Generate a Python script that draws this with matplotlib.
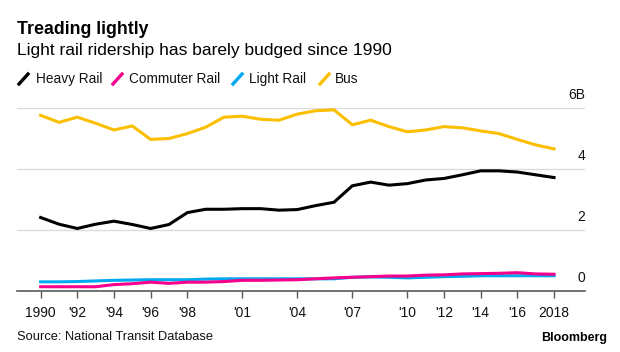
"""
Treading lightly - US transit ridership by mode, 1990-2018.
"""

import matplotlib
matplotlib.use("Agg")
import matplotlib.pyplot as plt
import matplotlib.transforms as mtransforms
from matplotlib.lines import Line2D

plt.rcParams['font.family'] = ['Liberation Sans', 'DejaVu Sans']

# Data (billions of unlinked trips)
years = list(range(1990, 2019))

heavy_rail = [2.41, 2.19, 2.05, 2.19, 2.29, 2.18, 2.05, 2.18, 2.57, 2.68,
              2.68, 2.70, 2.70, 2.65, 2.67, 2.80, 2.91, 3.45, 3.57, 3.47,
              3.52, 3.64, 3.69, 3.81, 3.94, 3.94, 3.90, 3.81, 3.72]

commuter_rail = [0.14, 0.14, 0.14, 0.14, 0.21, 0.24, 0.29, 0.25, 0.29, 0.29,
                 0.31, 0.35, 0.35, 0.36, 0.37, 0.40, 0.43, 0.45, 0.47, 0.49,
                 0.49, 0.52, 0.53, 0.56, 0.57, 0.58, 0.60, 0.56, 0.55]

light_rail = [0.30, 0.30, 0.31, 0.33, 0.35, 0.36, 0.37, 0.37, 0.37, 0.39,
              0.40, 0.40, 0.40, 0.40, 0.40, 0.40, 0.40, 0.45, 0.46, 0.45,
              0.43, 0.45, 0.47, 0.48, 0.50, 0.50, 0.50, 0.50, 0.50]

bus = [5.76, 5.53, 5.70, 5.50, 5.28, 5.41, 4.97, 5.00, 5.16, 5.37,
       5.70, 5.73, 5.63, 5.60, 5.80, 5.91, 5.94, 5.45, 5.60, 5.39,
       5.22, 5.28, 5.39, 5.35, 5.25, 5.16, 4.97, 4.79, 4.66]

series_names = ['Heavy Rail', 'Commuter Rail', 'Light Rail', 'Bus']
series_values = [heavy_rail, commuter_rail, light_rail, bus]
series_colors = ['#000000', '#f5008c', '#00a9f0', '#fbbf00']

xtick_years = [1990, 1992, 1994, 1996, 1998, 2001, 2004, 2007,
               2010, 2012, 2014, 2016, 2018]
xtick_labels = ['1990', "'92", "'94", "'96", "'98", "'01", "'04", "'07",
                "'10", "'12", "'14", "'16", '2018']

ytick_values = [0, 2, 4, 6]
ytick_labels = ['0', '2', '4', '6B']

W, H = 620, 352
fig = plt.figure(figsize=(W / 100, H / 100), dpi=100)
ax = fig.add_axes([17 / W, 1 - 291 / H, (585 - 17) / W, (291 - 108) / H])

# Lines (draw bus first so rail sits on top)
for name, vals, col in reversed(list(zip(series_names, series_values, series_colors))):
    ax.plot(years, vals, color=col, lw=2.2, solid_joinstyle='miter',
            clip_on=False, zorder=3)

ax.set_xlim(1988.71, 2019.69)
ax.set_ylim(0, 6)

# Gridlines and the baseline
for v in ytick_values[1:]:
    ax.axhline(v, color='#dcdcdc', lw=1.0, zorder=1)
for s in ['top', 'right', 'left']:
    ax.spines[s].set_visible(False)
ax.spines['bottom'].set_color('#5a5a5a')
ax.spines['bottom'].set_linewidth(1.2)

ax.set_yticks([])
ax.set_xticks(xtick_years)
ax.set_xticklabels(xtick_labels, fontsize=10, color='#111111')
ax.tick_params(axis='x', length=5, width=1, color='#5a5a5a', pad=6)

# Y labels sit above each gridline, right aligned
lift = mtransforms.offset_copy(ax.get_yaxis_transform(), fig=fig, x=0, y=9.5, units='points')
for v, lab in zip(ytick_values, ytick_labels):
    ax.text(1.0, v, lab, transform=lift, ha='right', va='center',
            fontsize=10, color='#111111')

# Titles
fig.text(17 / W, 1 - 30 / H, 'Treading lightly', fontsize=12.8, fontweight='bold',
         ha='left', va='center', color='#000000')
fig.text(17 / W, 1 - 50 / H, 'Light rail ridership has barely budged since 1990',
         fontsize=12.5, ha='left', va='center', color='#000000')

# Legend with slash markers
slash_x = [19, 113, 233, 320]
label_x = [36, 129, 249, 335]
for name, col, sx, lx in zip(series_names, series_colors, slash_x, label_x):
    fig.add_artist(Line2D([sx / W, (sx + 9) / W], [1 - 84 / H, 1 - 74 / H],
                          color=col, lw=2.4, transform=fig.transFigure))
    fig.text(lx / W, 1 - 79 / H, name, fontsize=9.8, ha='left', va='center',
             color='#111111')

# Footer
fig.text(17 / W, 1 - 337 / H, 'Source: National Transit Database', fontsize=9.3,
         ha='left', va='center', color='#111111')
fig.text(607 / W, 1 - 338 / H, 'Bloomberg', fontsize=9, fontweight='bold',
         ha='right', va='center', color='#000000')

fig.savefig('out.png', dpi=100)
